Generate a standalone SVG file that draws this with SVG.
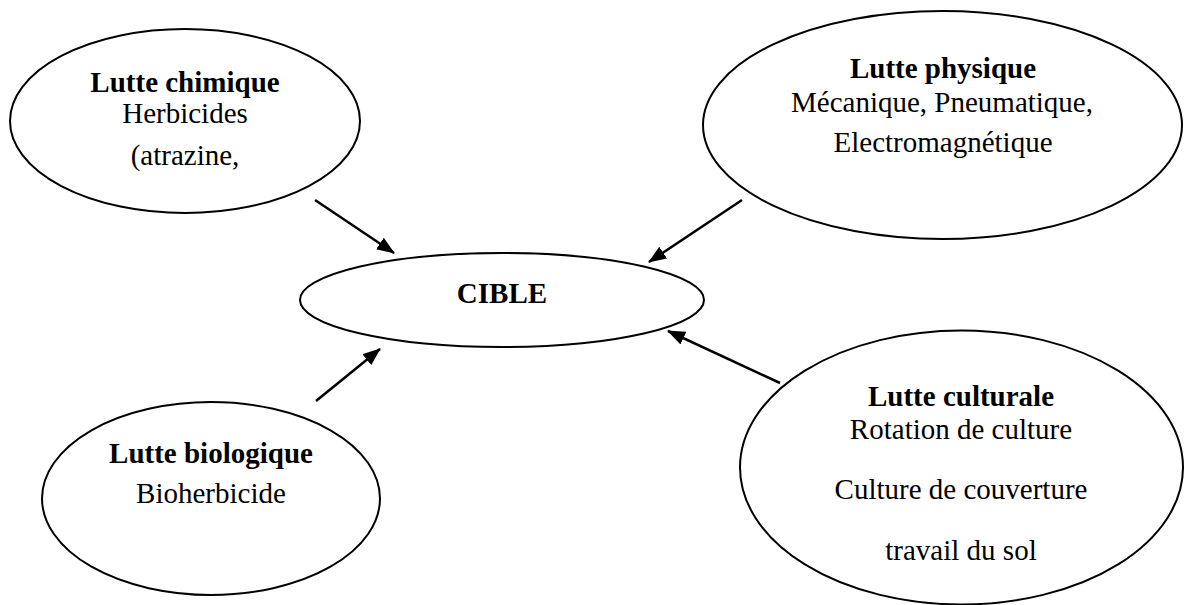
<svg xmlns="http://www.w3.org/2000/svg" width="1184" height="605" viewBox="0 0 1184 605">
<style>
.node ellipse{fill:#fff;stroke:#000;stroke-width:2}
text{font-family:"Liberation Serif","Times New Roman",serif;font-size:29px;fill:#000;text-anchor:middle}
.b{font-weight:bold}
.conn line{stroke:#000;stroke-width:2.5;marker-end:url(#ah)}
</style>
<defs>
<marker id="ah" markerUnits="userSpaceOnUse" markerWidth="18" markerHeight="14" refX="17" refY="7" orient="auto">
<path d="M0,0 L18,7 L0,14 Z" fill="#000"/>
</marker>
</defs>
<rect width="1184" height="605" fill="#fff"/>
<g id="chimique" class="node">
<ellipse cx="185" cy="121" rx="175" ry="92"/>
<text x="185" y="92" class="b">Lutte chimique</text>
<text x="185" y="123">Herbicides</text>
<text x="185" y="165">(atrazine,</text>
</g>
<g id="physique" class="node">
<ellipse cx="942.5" cy="125" rx="239.5" ry="114"/>
<text x="943" y="78" class="b">Lutte physique</text>
<text x="942" y="112">Mécanique, Pneumatique,</text>
<text x="943" y="152">Electromagnétique</text>
</g>
<g id="cible" class="node">
<ellipse cx="502" cy="300" rx="202" ry="47"/>
<text x="502" y="303" class="b">CIBLE</text>
</g>
<g id="biologique" class="node">
<ellipse cx="211" cy="498.5" rx="169" ry="96.5"/>
<text x="211" y="463" class="b">Lutte biologique</text>
<text x="211" y="503">Bioherbicide</text>
</g>
<g id="culturale" class="node">
<ellipse cx="961.5" cy="467.5" rx="221.5" ry="137"/>
<text x="961" y="406" class="b">Lutte culturale</text>
<text x="961" y="439">Rotation de culture</text>
<text x="961" y="499">Culture de couverture</text>
<text x="961" y="560">travail du sol</text>
</g>
<g id="connectors" class="conn">
<line x1="315" y1="200" x2="394" y2="253"/>
<line x1="742" y1="200" x2="649" y2="262"/>
<line x1="316" y1="401" x2="380" y2="349"/>
<line x1="780" y1="383" x2="668" y2="331"/>
</g>
</svg>
